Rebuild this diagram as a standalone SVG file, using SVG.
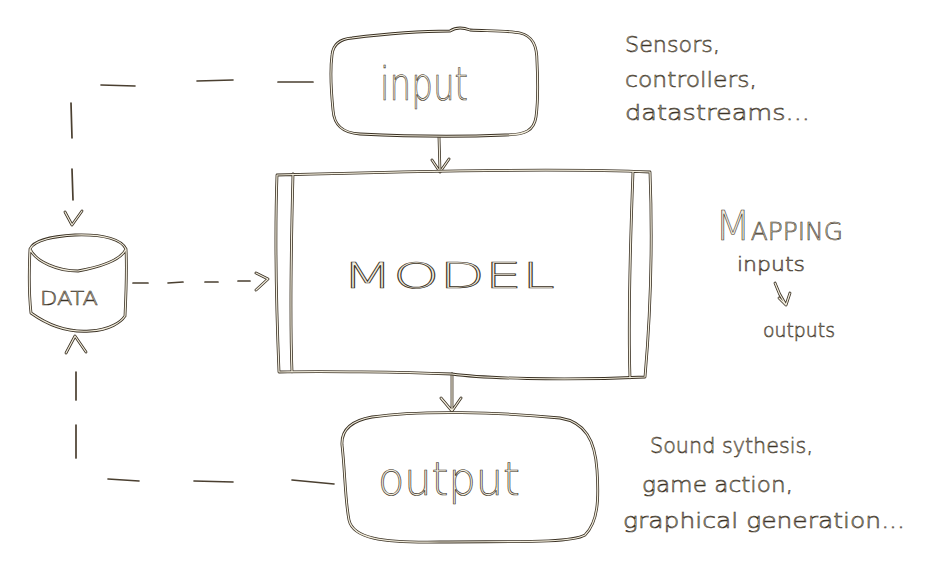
<svg xmlns="http://www.w3.org/2000/svg" xmlns:xlink="http://www.w3.org/1999/xlink" width="945" height="569" viewBox="0 0 945 569">
<style>
.ink{fill:none;stroke:#3a3124;stroke-width:2.8;stroke-linecap:round;stroke-linejoin:round}
.core{fill:none;stroke:#f2eddd;stroke-width:1.2;stroke-linecap:round;stroke-linejoin:round}
.dash{fill:none;stroke:#4a3f30;stroke-width:1.7;stroke-linecap:round}
.hand{fill:#f3eee0;stroke:#3a3124;stroke-width:0.7;font-family:"DejaVu Sans",sans-serif;font-weight:200}
.small{fill:#f3eee0;stroke:#3a3124;stroke-width:0.6;font-family:"DejaVu Sans",sans-serif;font-weight:200}
</style>
<defs>
<path id="pInput" d="M352,38 C400,32 430,31 450,31 C456,27 462,27 470,30 C495,31 512,31 520,33 C533,36 537,46 537,62 C538,82 538,102 536,117 C534,130 526,135 505,135 C460,137 400,136 360,134 C342,133 334,125 333,110 C331,90 330,70 332,55 C333,44 340,39 352,38 Z"/>
<path id="pModel" d="M277,175 C380,172 560,168 650,172 C653,250 650,320 645,377 C560,381 480,378 452,374 C400,372 320,371 279,372 C276,300 275,230 277,175 Z M293,174 C291,250 290,320 292,372 M633,172 C630,250 628,320 630,378"/>
<path id="pOutput" d="M372,417 C420,410 500,412 560,418 C585,422 595,440 597,470 C599,500 598,522 585,535 C570,544 500,541 440,542 C380,543 353,538 349,520 C345,500 345,470 342,445 C341,428 355,420 372,417 Z"/>
<path id="pData" d="M30,249 C34,240 55,236 75,235 C105,234 122,240 126,249 C122,258 105,266 78,271 C58,271 36,262 30,249 Z M30,249 C29,270 29,295 31,313 M126,249 C127,270 126,295 125,316 M31,313 C45,323 65,333 90,331 C110,330 121,322 125,316"/>
<path id="pArrows" d="M439,137 L440,172 M432,160 L440,172 L449,159 M452,374 L452,411 M441,398 L452,411 L461,398"/>
<path id="pMapArrow" d="M775,283 C778,292 782,299 786,305 M779,298 L786,305 L790,293"/>
</defs>
<rect width="945" height="569" fill="#ffffff"/>

<g id="connectors">
<path class="dash" d="M313,82 L278,82 M233,80 L197,81 M135,86 L101,85 M71,103 L72,138 M72,169 L73,200"/>
<path class="ink" d="M65,212 L72,225 L82,211"/>
<path class="core" d="M65,212 L72,225 L82,211"/>
<path class="dash" d="M334,484 L292,480 M233,482 L194,481 M139,481 L108,479 M76,458 L76,425 M76,400 L76,372"/>
<path class="ink" d="M66,353 L75,336 L86,352"/>
<path class="core" d="M66,353 L75,336 L86,352"/>
<path class="dash" d="M133,283 L148,283 M168,283 L183,282 M205,282 L218,282 M238,281 L250,281"/>
<path class="ink" d="M256,273 L268,279 L256,290"/>
<path class="core" d="M256,273 L268,279 L256,290"/>
<use href="#pArrows" class="ink"/>
<use href="#pArrows" class="core"/>
</g>

<g id="input">
<use href="#pInput" class="ink"/>
<use href="#pInput" class="core"/>
<text class="hand" x="380" y="100" font-size="46" textLength="88" lengthAdjust="spacingAndGlyphs">input</text>
</g>

<g id="model">
<use href="#pModel" class="ink"/>
<use href="#pModel" class="core"/>
<text class="hand" x="342" y="288" font-size="36" textLength="213" lengthAdjust="spacingAndGlyphs">MODEL</text>
</g>

<g id="output">
<use href="#pOutput" class="ink"/>
<use href="#pOutput" class="core"/>
<text class="hand" x="378" y="495" font-size="46" textLength="142" lengthAdjust="spacingAndGlyphs">output</text>
</g>

<g id="data">
<use href="#pData" class="ink"/>
<use href="#pData" class="core"/>
<text class="small" x="40" y="305" font-size="20" textLength="58" lengthAdjust="spacingAndGlyphs">DATA</text>
</g>

<g id="input-note">
<text class="small" x="625" y="52" font-size="22" textLength="95" lengthAdjust="spacingAndGlyphs">Sensors,</text>
<text class="small" x="625" y="87" font-size="22" textLength="132" lengthAdjust="spacingAndGlyphs">controllers,</text>
<text class="small" x="625" y="120" font-size="22" textLength="185" lengthAdjust="spacingAndGlyphs">datastreams...</text>
</g>

<g id="mapping-note">
<text class="small" x="715" y="240" font-size="24" textLength="128" lengthAdjust="spacingAndGlyphs"><tspan font-size="40">M</tspan>APPING</text>
<text class="small" x="737" y="271" font-size="20" textLength="68" lengthAdjust="spacingAndGlyphs">inputs</text>
<use href="#pMapArrow" class="ink"/>
<use href="#pMapArrow" class="core"/>
<text class="small" x="763" y="337" font-size="20" textLength="72" lengthAdjust="spacingAndGlyphs">outputs</text>
</g>

<g id="output-note">
<text class="small" x="650" y="453" font-size="22" textLength="163" lengthAdjust="spacingAndGlyphs">Sound sythesis,</text>
<text class="small" x="642" y="492" font-size="22" textLength="151" lengthAdjust="spacingAndGlyphs">game action,</text>
<text class="small" x="623" y="528" font-size="22" textLength="282" lengthAdjust="spacingAndGlyphs">graphical generation...</text>
</g>
</svg>
